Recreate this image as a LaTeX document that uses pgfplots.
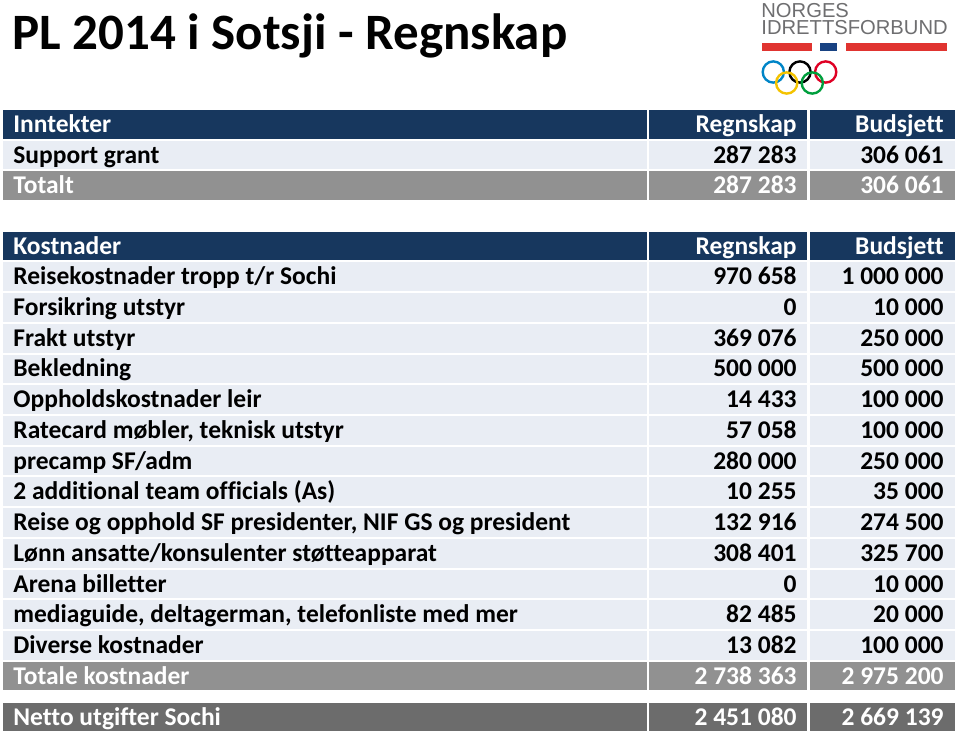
\documentclass[border=0pt]{standalone}
\usepackage{pgfplots}
\usepackage{pgfplotstable}
\pgfplotsset{compat=1.18}
\usepackage{fontspec}
\setmainfont{Carlito}[Ligatures=NoCommon]
\newfontfamily\logofont{Liberation Sans}
\definecolor{navy}{RGB}{23,55,94}
\definecolor{lightrow}{RGB}{233,237,244}
\definecolor{totgrey}{RGB}{145,145,145}
\definecolor{netgrey}{RGB}{108,108,108}
\definecolor{logogrey}{RGB}{110,110,112}
\definecolor{nred}{RGB}{224,52,48}
\definecolor{nblue}{RGB}{24,66,130}
\definecolor{oblue}{RGB}{0,133,199}
\definecolor{oyellow}{RGB}{244,195,0}
\definecolor{ogreen}{RGB}{0,159,61}
\definecolor{ored}{RGB}{223,0,36}

\pgfplotstableread[col sep=semicolon]{
top;label;r;b
140.7;Support grant;287 283;306 061
262.4;Reisekostnader tropp t/r Sochi;970 658;1 000 000
293.1;Forsikring utstyr;0;10 000
323.8;Frakt utstyr;369 076;250 000
354.5;Bekledning;500 000;500 000
385.3;Oppholdskostnader leir;14 433;100 000
416.0;Ratecard møbler, teknisk utstyr;57 058;100 000
446.7;precamp  SF/adm;280 000;250 000
477.4;2 additional team officials (As);10 255;35 000
508.1;Reise og opphold SF presidenter, NIF GS og president;132 916;274 500
538.8;Lønn ansatte/konsulenter støtteapparat;308 401;325 700
569.5;Arena billetter;0;10 000
600.2;mediaguide, deltagerman, telefonliste med mer;82 485;20 000
631.0;Diverse kostnader;13 082;100 000
}\bodyrows

\pgfplotstableread[col sep=semicolon]{
top;label;r;b
110.0;Inntekter;Regnskap;Budsjett
231.7;Kostnader;Regnskap;Budsjett
}\headrows

\pgfplotstableread[col sep=semicolon]{
top;label;r;b
171.4;Totalt;287 283;306 061
661.7;Totale kostnader;2 738 363;2 975 200
}\totrows

\pgfplotstableread[col sep=semicolon]{
top;label;r;b
702.7;Netto utgifter Sochi;2 451 080;2 669 139
}\netrows

\newcommand\rowbg[2]{%
  \fill[#2] (axis cs:3,#1) rectangle (axis cs:646.5,{#1+28.7});
  \fill[#2] (axis cs:649,#1) rectangle (axis cs:807,{#1+28.7});
  \fill[#2] (axis cs:810,#1) rectangle (axis cs:955,{#1+28.7});}

\pgfplotsset{
  celltxt/.style 2 args={draw=none, mark=none, nodes near coords,
    point meta=explicit symbolic,
    nodes near coords style={anchor=#1, inner sep=0pt, text=#2,
      font=\fontsize{12.75}{14}\selectfont\bfseries}},
}
\newcommand\tablerows[2]{%
  \addplot[celltxt={base west}{#2}] table[x expr=13, y expr=\thisrow{top}+22.5, meta=label] {#1};
  \addplot[celltxt={base east}{#2}] table[x expr=797, y expr=\thisrow{top}+22.5, meta=r] {#1};
  \addplot[celltxt={base east}{#2}] table[x expr=944, y expr=\thisrow{top}+22.5, meta=b] {#1};}

\begin{document}
\begin{tikzpicture}
\begin{axis}[
  scale only axis, width=480pt, height=366.5pt,
  xmin=0, xmax=960, ymin=0, ymax=733, y dir=reverse,
  hide axis, clip=false]
\path (axis cs:0,0) rectangle (axis cs:960,733);
% title
\node[anchor=base west, inner sep=0pt, text={RGB:red,13;green,13;blue,13}, font=\fontsize{25.5}{30}\selectfont\bfseries] at (axis cs:12,50) {PL 2014 i Sotsji - Regnskap};
% logo
\node[anchor=base west, inner sep=0pt, text=logogrey, font=\logofont\fontsize{10.1}{11}\selectfont] at (axis cs:761,17.5) {NORGES};
\node[anchor=base west, inner sep=0pt, text=logogrey, font=\logofont\fontsize{10.1}{11}\selectfont] at (axis cs:761,35) {IDRETTSFORBUND};
\fill[nred] (axis cs:762,43) rectangle (axis cs:812,51);
\fill[nblue] (axis cs:820,43) rectangle (axis cs:837,51);
\fill[nred] (axis cs:846,43) rectangle (axis cs:947,51);
\draw[oblue, line width=1.2pt] (axis cs:773.3,72) circle [radius=5.3pt];
\draw[black, line width=1.2pt] (axis cs:800,72) circle [radius=5.3pt];
\draw[ored, line width=1.2pt] (axis cs:825.7,72) circle [radius=5.3pt];
\draw[oyellow, line width=1.2pt] (axis cs:786.7,83) circle [radius=5.3pt];
\draw[ogreen, line width=1.2pt] (axis cs:812.3,83) circle [radius=5.3pt];
% backgrounds
\rowbg{110.0}{navy}
\rowbg{231.7}{navy}
\rowbg{140.7}{lightrow}
\rowbg{262.4}{lightrow}
\rowbg{293.1}{lightrow}
\rowbg{323.8}{lightrow}
\rowbg{354.5}{lightrow}
\rowbg{385.3}{lightrow}
\rowbg{416.0}{lightrow}
\rowbg{446.7}{lightrow}
\rowbg{477.4}{lightrow}
\rowbg{508.1}{lightrow}
\rowbg{538.8}{lightrow}
\rowbg{569.5}{lightrow}
\rowbg{600.2}{lightrow}
\rowbg{631.0}{lightrow}
\rowbg{171.4}{totgrey}
\rowbg{661.7}{totgrey}
\rowbg{702.7}{netgrey}
% text
\tablerows{\headrows}{white}
\tablerows{\bodyrows}{black}
\tablerows{\totrows}{white}
\tablerows{\netrows}{white}
\end{axis}
\end{tikzpicture}
\end{document}
